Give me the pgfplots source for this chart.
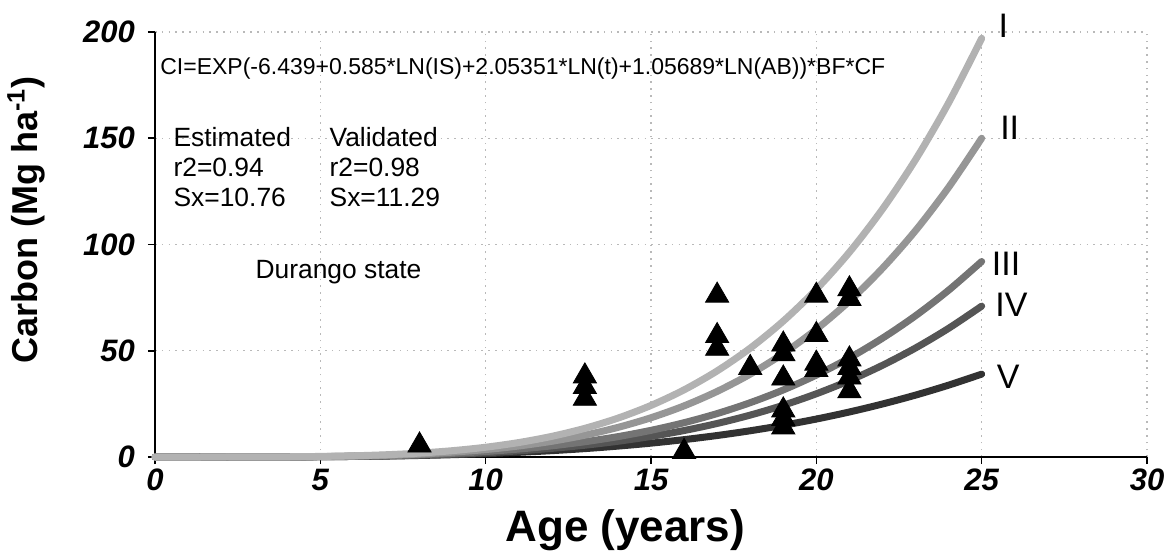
\documentclass[border=0pt]{standalone}
\usepackage{fontspec}
\setmainfont{Liberation Sans}
\usepackage{pgfplots}
\usepackage{pgfplotstable}
\pgfplotsset{compat=1.18}

\definecolor{cI}{RGB}{178,178,178}
\definecolor{cII}{RGB}{150,150,150}
\definecolor{cIII}{RGB}{116,116,116}
\definecolor{cIV}{RGB}{85,85,85}
\definecolor{cV}{RGB}{50,50,50}

% carbon curves by site index class
\pgfplotstableread{
t   I      II     III    IV     V
0   0      0      0      0      0
1   0      0      0      0      0
2   0.01   0.00   0.00   0.00   0.01
3   0.03   0.03   0.02   0.02   0.02
4   0.11   0.08   0.07   0.06   0.06
5   0.27   0.20   0.17   0.13   0.14
6   0.57   0.43   0.35   0.27   0.26
7   1.07   0.81   0.64   0.50   0.45
8   1.84   1.40   1.08   0.83   0.72
9   2.99   2.28   1.71   1.32   1.09
10  4.60   3.50   2.58   1.99   1.58
11  6.80   5.18   3.74   2.89   2.20
12  9.72   7.40   5.25   4.05   2.99
13  13.49  10.28  7.18   5.54   3.95
14  18.29  13.93  9.59   7.40   5.13
15  24.27  18.48  12.55  9.68   6.52
16  31.60  24.06  16.14  12.45  8.18
17  40.52  30.86  20.44  15.78  10.11
18  51.22  39.00  25.56  19.72  12.35
19  63.95  48.69  31.56  24.35  14.93
20  78.92  60.09  38.55  29.75  17.86
21  96.37  73.38  46.61  35.97  21.19
22  116.64 88.82  55.91  43.15  24.94
23  139.93 106.55 66.47  51.30  29.13
24  166.66 126.90 78.48  60.56  33.81
25  197    150    92     71     39
}\curves

% observed plots
\pgfplotstableread{
age carbon
8   5.5
13  38
13  33
13  27.5
16  2.5
17  76
17  57
17  51
18  42
19  53
19  48.5
19  37
19  22
19  18
19  14
20  76
20  57.5
20  44
20  41
21  79
21  74.5
21  46
21  42
21  37.5
21  31
}\obs

\begin{document}
\begin{tikzpicture}
\begin{axis}[
  scale only axis,
  width=496pt,height=212.5pt,
  xmin=0,xmax=30,ymin=0,ymax=200,
  axis lines=left,
  axis line style={-,black,line width=0.9pt},
  clip=false,
  xtick={0,5,...,30},ytick={0,50,...,200},
  tick align=outside,
  major tick length=3.5pt,
  tick style={black,line width=0.8pt},
  grid=major,
  grid style={gray!55,line width=0.7pt,dash pattern=on 0.8pt off 2.6pt},
  /pgf/number format/assume math mode=true,
  ticklabel style={font=\fontsize{15.5}{15.5}\selectfont\bfseries\itshape},
  yticklabel style={xshift=-3pt},
  xticklabel style={yshift=1pt},
  xlabel={Age (years)},
  ylabel={Carbon (Mg ha\textsuperscript{-1})},
  xlabel style={at={(axis description cs:0.474,-0.172)},anchor=center,
    font=\fontsize{22}{22}\selectfont\bfseries},
  ylabel style={at={(axis description cs:-0.13,0.558)},anchor=center,
    font=\fontsize{18}{18}\selectfont\bfseries},
]
\addplot[only marks,mark=triangle*,mark size=6.7pt,black] table[x=age,y=carbon]{\obs};

\addplot[cV,line width=3.5pt,line cap=round,smooth] table[x=t,y=V]{\curves};
\addplot[cIV,line width=3.5pt,line cap=round,smooth] table[x=t,y=IV]{\curves};
\addplot[cIII,line width=3.5pt,line cap=round,smooth] table[x=t,y=III]{\curves};
\addplot[cII,line width=3.5pt,line cap=round,smooth] table[x=t,y=II]{\curves};
\addplot[cI,line width=3.5pt,line cap=round,smooth] table[x=t,y=I]{\curves};

\begin{scope}[every node/.style={font=\fontsize{17}{17}\selectfont,anchor=west,inner sep=0pt}]
\node at (axis cs:25.5,203) {I};
\node at (axis cs:25.55,155) {II};
\node at (axis cs:25.3,91) {III};
\node at (axis cs:25.4,71.5) {IV};
\node at (axis cs:25.45,37.6) {V};
\end{scope}

\begin{scope}[every node/.style={font=\fontsize{13.2}{15}\selectfont,anchor=west,inner sep=0pt,align=left}]
\node[font=\fontsize{11.5}{14}\selectfont] at (axis cs:0.15,183) {CI=EXP(-6.439+0.585*LN(IS)+2.05351*LN(t)+1.05689*LN(AB))*BF*CF};
\node at (axis cs:0.55,136.5) {Estimated\\r2=0.94\\Sx=10.76};
\node at (axis cs:5.27,136.5) {Validated\\r2=0.98\\Sx=11.29};
\node at (axis cs:3.03,87) {Durango state};
\end{scope}

\coordinate (SW) at (rel axis cs:0,0);
\coordinate (NE) at (rel axis cs:1,1);
\end{axis}
\pgfresetboundingbox
\path ([shift={(-77.5pt,-50pt)}]SW) rectangle ([shift={(8.5pt,16pt)}]NE);
\end{tikzpicture}
\end{document}
